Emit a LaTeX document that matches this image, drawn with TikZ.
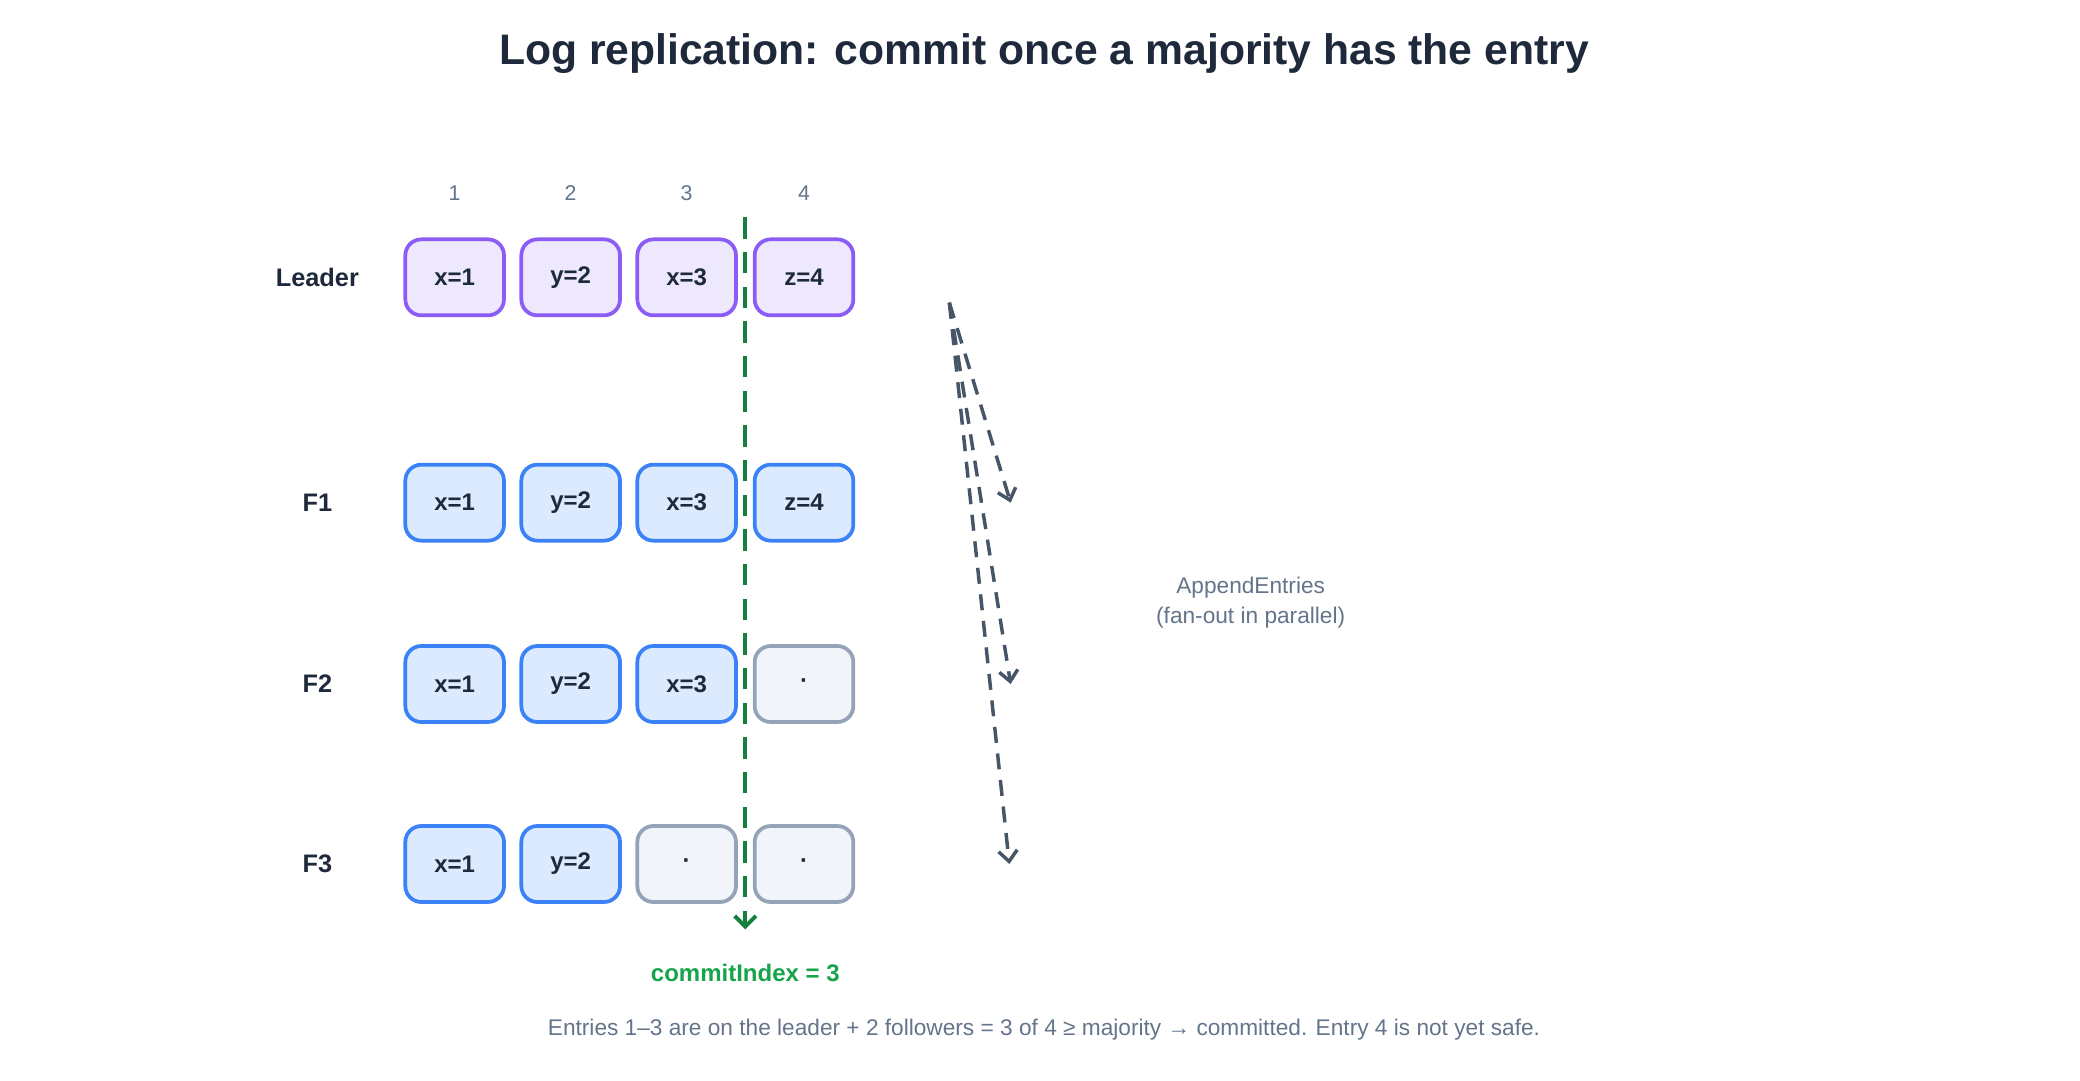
\documentclass[tikz,border=0pt]{standalone}
\usepackage{fontspec}
\setmainfont{Liberation Sans}
\usepackage{xcolor}
\usepackage{tikz}
\usetikzlibrary{arrows.meta,positioning}
\definecolor{leadfill}{HTML}{EEE8FD}
\definecolor{leadline}{HTML}{8B5CF6}
\definecolor{folfill}{HTML}{DBEAFE}
\definecolor{folline}{HTML}{3B82F6}
\definecolor{emptyfill}{HTML}{F1F5F9}
\definecolor{emptyline}{HTML}{94A3B8}
\definecolor{ink}{HTML}{1E293B}
\definecolor{muted}{HTML}{64748B}
\definecolor{rpc}{HTML}{475569}
\definecolor{commitgreen}{HTML}{15803D}
\definecolor{commitlabel}{HTML}{16A34A}
\tikzset{
  entry/.style={draw, line width=1.4pt, rounded corners=6pt, minimum width=37pt,
    minimum height=28.5pt, inner sep=0pt, font=\fontsize{9}{10}\selectfont\bfseries, text=ink},
  leadentry/.style={entry, fill=leadfill, draw=leadline},
  folentry/.style={entry, fill=folfill, draw=folline},
  emptyentry/.style={entry, fill=emptyfill, draw=emptyline},
  rowlabel/.style={font=\fontsize{9.5}{11}\selectfont\bfseries, text=ink},
  idxlabel/.style={font=\fontsize{8}{9}\selectfont, text=muted},
  rpcarrow/.style={draw=rpc, line width=1.3pt, dash pattern=on 6pt off 4pt, -{Straight Barb[length=4pt,width=7pt]}}
}
\begin{document}
\begin{tikzpicture}[x=0.5pt,y=-0.5pt]
    \useasboundingbox (0,0) rectangle (1560,810);
    % Title
    \node[font=\fontsize{16}{19}\selectfont\bfseries, text=ink] (title) at (783,40)
        {Log replication: commit once a majority has the entry};

    % Column indices
    \node[idxlabel] (i1) at (341,145) {1};
    \node[idxlabel] (i2) at (428,145) {2};
    \node[idxlabel] (i3) at (515,145) {3};
    \node[idxlabel] (i4) at (603,145) {4};

    % Leader
    \node[rowlabel] (lead) at (238,208) {Leader};
    \node[leadentry] (l1) at (341,208) {x=1};
    \node[leadentry] (l2) at (428,208) {y=2};
    \node[leadentry] (l3) at (515,208) {x=3};
    \node[leadentry] (l4) at (603,208) {z=4};

    % Follower 1
    \node[rowlabel] (f1) at (238,377) {F1};
    \node[folentry] (a1) at (341,377) {x=1};
    \node[folentry] (a2) at (428,377) {y=2};
    \node[folentry] (a3) at (515,377) {x=3};
    \node[folentry] (a4) at (603,377) {z=4};

    % Follower 2
    \node[rowlabel] (f2) at (238,513) {F2};
    \node[folentry] (b1) at (341,513) {x=1};
    \node[folentry] (b2) at (428,513) {y=2};
    \node[folentry] (b3) at (515,513) {x=3};
    \node[emptyentry] (b4) at (603,513) {·};

    % Follower 3
    \node[rowlabel] (f3) at (238,648) {F3};
    \node[folentry] (c1) at (341,648) {x=1};
    \node[folentry] (c2) at (428,648) {y=2};
    \node[emptyentry] (c3) at (515,648) {·};
    \node[emptyentry] (c4) at (603,648) {·};

    % Commit index
    \coordinate (ctop) at (559,163);
    \coordinate (cbot) at (559,697);
    \draw[draw=commitgreen, line width=1.5pt, dash pattern=on 8pt off 5pt,
        -{Straight Barb[length=4pt,width=8pt]}] (ctop) -- (cbot);
    \node[font=\fontsize{9}{11}\selectfont\bfseries, text=commitlabel] (commit) at (559,730)
        {commitIndex = 3};

    % AppendEntries fan-out
    \coordinate (src) at (712,227);
    \coordinate (to1) at (758,377);
    \coordinate (to2) at (758,513);
    \coordinate (to3) at (757,648);
    \draw[rpcarrow] (src) -- (to1);
    \draw[rpcarrow] (src) -- (to2);
    \draw[rpcarrow] (src) -- (to3);
    \node[align=center, font=\fontsize{8.5}{11.5}\selectfont, text=muted] (rpclabel) at (938,452)
        {AppendEntries\\(fan-out in parallel)};

    % Footer
    \node[font=\fontsize{8.5}{10}\selectfont, text=muted] (note) at (783,772)
        {Entries 1–3 are on the leader + 2 followers = 3 of 4 ≥ majority → committed. Entry 4 is not yet safe.};
\end{tikzpicture}
\end{document}
